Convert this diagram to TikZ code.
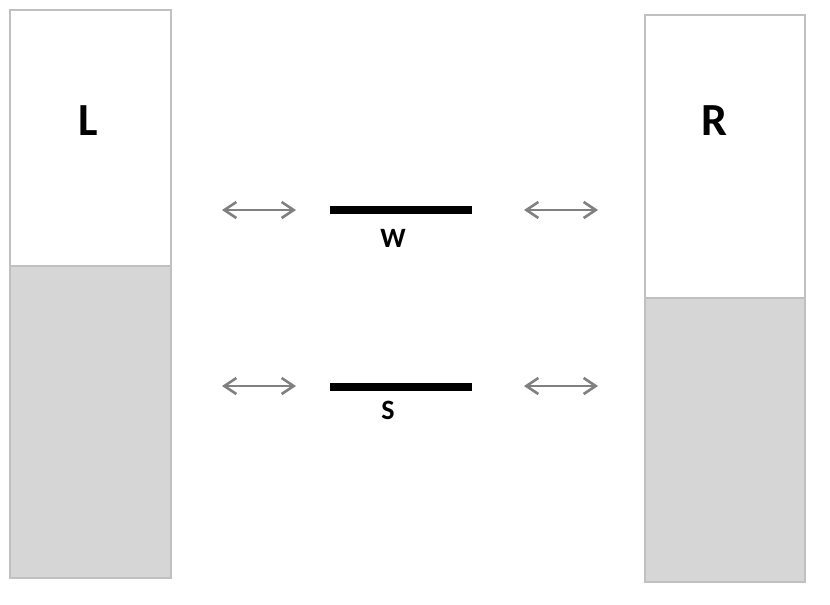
\documentclass[tikz,border=0pt]{standalone}
\usepackage{fontspec}
\setmainfont{Carlito}
\usetikzlibrary{arrows.meta}
\definecolor{boxline}{HTML}{C0C0C0}
\definecolor{boxfill}{HTML}{D6D6D6}
\definecolor{arrowgray}{HTML}{808080}
\tikzset{
  tank/.style={draw=boxline, line width=2pt},
  level/.style={fill=boxfill},
  gate/.style={line width=8pt, black},
  flow/.style={draw=arrowgray, line width=2.6pt,
    >={Straight Barb[length=12pt,width=16pt]}, <->},
  biglabel/.style={font=\bfseries\fontsize{46}{46}\selectfont},
  smalllabel/.style={font=\bfseries\fontsize{28}{28}\selectfont}
}
\begin{document}
\begin{tikzpicture}[x=1pt,y=-1pt]
  \useasboundingbox (0,0) rectangle (830,605);

  % left tank
  \fill[level] (10,266) rectangle (171,578);
  \draw[tank] (10,10) rectangle (171,578);
  \draw[tank] (10,266) -- (171,266);
  \node[biglabel] (L) at (88,121) {L};

  % right tank
  \fill[level] (645,298) rectangle (805,582);
  \draw[tank] (645,15) rectangle (805,582);
  \draw[tank] (645,298) -- (805,298);
  \node[biglabel] (R) at (714,121) {R};

  % gates
  \coordinate (w1) at (330,209.5);
  \coordinate (w2) at (472,209.5);
  \draw[gate] (w1) -- (w2);
  \node[smalllabel] (W) at (393,238) {W};
  \coordinate (s1) at (330,386.5);
  \coordinate (s2) at (472,386.5);
  \draw[gate] (s1) -- (s2);
  \node[smalllabel] (S) at (388,410) {S};

  % flows
  \foreach \y/\n in {210/a,386/b} {
    \coordinate (\n l1) at (222,\y);
    \coordinate (\n l2) at (296,\y);
    \coordinate (\n r1) at (524,\y);
    \coordinate (\n r2) at (598,\y);
    \draw[flow] (\n l1) -- (\n l2);
    \draw[flow] (\n r1) -- (\n r2);
  }

\end{tikzpicture}
\end{document}
